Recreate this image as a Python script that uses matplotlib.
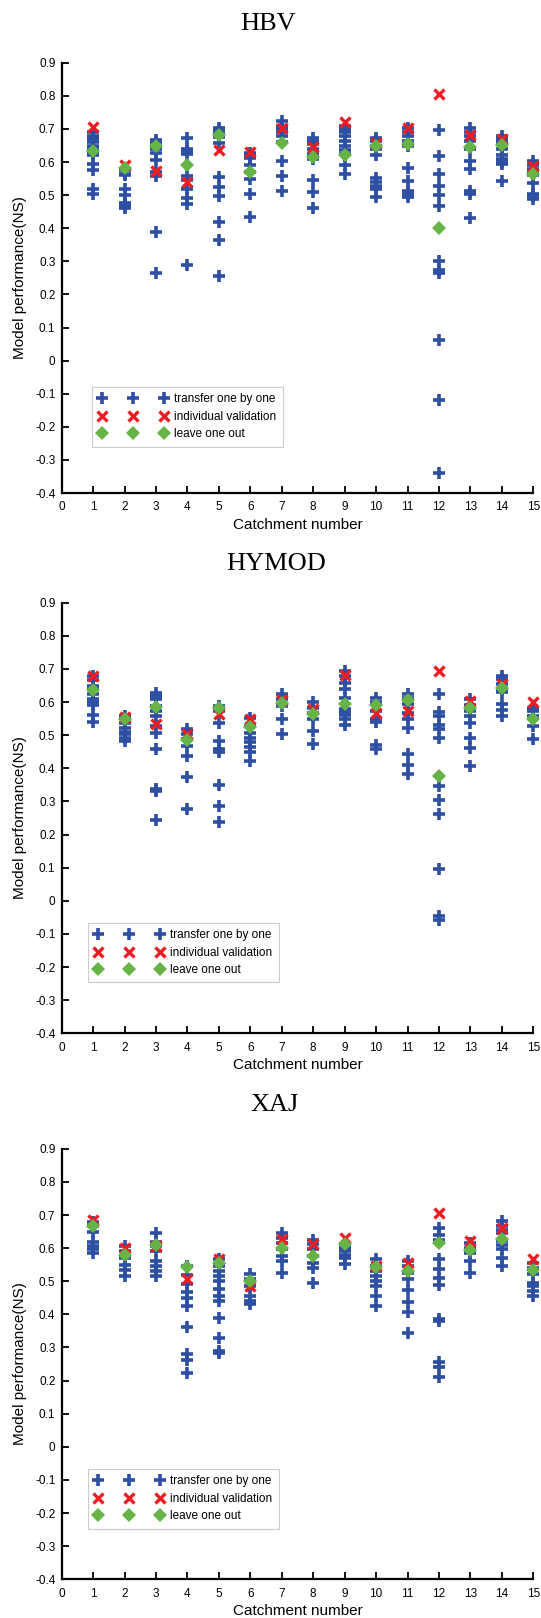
import numpy as np
import matplotlib
matplotlib.use("Agg")
import matplotlib.pyplot as plt

# DATA (NS values)
catchments = list(range(1, 16))
models = ["HBV", "HYMOD", "XAJ"]

# transfer one by one: parameters of the other catchments applied to each catchment
hbv_transfer = [
    [0.69, 0.68, 0.675, 0.67, 0.66, 0.65, 0.64, 0.63, 0.62, 0.595, 0.576, 0.518, 0.505],
    [0.58, 0.575, 0.565, 0.56, 0.518, 0.50, 0.476, 0.468, 0.462],
    [0.668, 0.66, 0.648, 0.64, 0.628, 0.605, 0.571, 0.558, 0.39, 0.266],
    [0.673, 0.64, 0.633, 0.625, 0.558, 0.545, 0.518, 0.491, 0.473, 0.288],
    [0.703, 0.695, 0.685, 0.675, 0.658, 0.555, 0.525, 0.498, 0.418, 0.363, 0.255],
    [0.628, 0.62, 0.613, 0.59, 0.57, 0.548, 0.503, 0.435],
    [0.723, 0.71, 0.70, 0.69, 0.68, 0.66, 0.603, 0.558, 0.513],
    [0.673, 0.665, 0.655, 0.638, 0.625, 0.608, 0.545, 0.51, 0.461],
    [0.71, 0.70, 0.69, 0.68, 0.665, 0.65, 0.635, 0.625, 0.59, 0.563],
    [0.673, 0.665, 0.65, 0.638, 0.62, 0.553, 0.54, 0.528, 0.518, 0.493],
    [0.703, 0.69, 0.68, 0.665, 0.648, 0.583, 0.543, 0.513, 0.503, 0.495],
    [0.698, 0.618, 0.563, 0.528, 0.50, 0.468, 0.301, 0.273, 0.266, 0.061, -0.118, -0.34],
    [0.703, 0.69, 0.68, 0.665, 0.638, 0.603, 0.578, 0.513, 0.505, 0.43],
    [0.68, 0.67, 0.66, 0.638, 0.62, 0.61, 0.60, 0.595, 0.543],
    [0.603, 0.59, 0.58, 0.57, 0.56, 0.538, 0.505, 0.498, 0.488],
]
hbv_indiv = [0.706, 0.59, 0.573, 0.541, 0.636, 0.63, 0.703, 0.645, 0.72, 0.658, 0.703, 0.805, 0.683, 0.67, 0.588]
hbv_loo = [0.633, 0.583, 0.648, 0.59, 0.683, 0.57, 0.658, 0.615, 0.62, 0.648, 0.656, 0.40, 0.646, 0.653, 0.563]

hymod_transfer = [
    [0.678, 0.668, 0.65, 0.64, 0.625, 0.61, 0.60, 0.59, 0.56, 0.54],
    [0.558, 0.538, 0.523, 0.51, 0.503, 0.493, 0.483],
    [0.628, 0.618, 0.608, 0.588, 0.573, 0.558, 0.528, 0.508, 0.458, 0.336, 0.33, 0.243],
    [0.518, 0.503, 0.488, 0.468, 0.438, 0.373, 0.278],
    [0.588, 0.573, 0.538, 0.483, 0.458, 0.448, 0.351, 0.285, 0.238],
    [0.553, 0.528, 0.508, 0.493, 0.478, 0.463, 0.448, 0.423],
    [0.623, 0.608, 0.588, 0.548, 0.505],
    [0.60, 0.583, 0.568, 0.548, 0.513, 0.473],
    [0.693, 0.678, 0.658, 0.64, 0.613, 0.58, 0.57, 0.56, 0.55, 0.531],
    [0.613, 0.60, 0.573, 0.548, 0.541, 0.471, 0.458],
    [0.625, 0.613, 0.593, 0.568, 0.548, 0.521, 0.443, 0.41, 0.383],
    [0.623, 0.57, 0.558, 0.53, 0.518, 0.493, 0.348, 0.303, 0.261, 0.097, -0.046, -0.058],
    [0.608, 0.59, 0.573, 0.558, 0.538, 0.493, 0.46, 0.406],
    [0.678, 0.67, 0.655, 0.64, 0.63, 0.593, 0.575, 0.558],
    [0.583, 0.573, 0.558, 0.528, 0.488],
]
hymod_indiv = [0.68, 0.555, 0.535, 0.503, 0.563, 0.548, 0.606, 0.578, 0.683, 0.566, 0.573, 0.693, 0.603, 0.656, 0.60]
hymod_loo = [0.635, 0.548, 0.585, 0.486, 0.583, 0.525, 0.598, 0.563, 0.595, 0.59, 0.606, 0.378, 0.583, 0.643, 0.55]

xaj_transfer = [
    [0.68, 0.666, 0.65, 0.62, 0.605, 0.598, 0.585],
    [0.605, 0.59, 0.57, 0.55, 0.535, 0.515],
    [0.645, 0.62, 0.605, 0.59, 0.56, 0.545, 0.53, 0.515],
    [0.545, 0.52, 0.491, 0.468, 0.448, 0.424, 0.361, 0.28, 0.262, 0.224],
    [0.566, 0.546, 0.53, 0.515, 0.50, 0.476, 0.456, 0.441, 0.389, 0.328, 0.29, 0.283],
    [0.521, 0.506, 0.486, 0.456, 0.44, 0.43],
    [0.646, 0.63, 0.615, 0.596, 0.576, 0.561, 0.524],
    [0.626, 0.611, 0.596, 0.576, 0.556, 0.541, 0.496],
    [0.611, 0.60, 0.59, 0.58, 0.571, 0.551],
    [0.566, 0.546, 0.53, 0.515, 0.50, 0.486, 0.456, 0.426],
    [0.561, 0.546, 0.526, 0.506, 0.474, 0.438, 0.408, 0.343],
    [0.661, 0.641, 0.626, 0.568, 0.538, 0.511, 0.489, 0.386, 0.381, 0.256, 0.24, 0.21],
    [0.616, 0.601, 0.586, 0.561, 0.524],
    [0.681, 0.666, 0.656, 0.646, 0.621, 0.608, 0.596, 0.571, 0.546],
    [0.556, 0.541, 0.521, 0.496, 0.486, 0.471, 0.456],
]
xaj_indiv = [0.686, 0.60, 0.606, 0.508, 0.566, 0.486, 0.628, 0.611, 0.631, 0.546, 0.554, 0.706, 0.621, 0.661, 0.568]
xaj_loo = [0.666, 0.58, 0.608, 0.544, 0.554, 0.501, 0.60, 0.576, 0.611, 0.543, 0.531, 0.616, 0.593, 0.629, 0.534]

transfer_all = [hbv_transfer, hymod_transfer, xaj_transfer]
indiv_all = [hbv_indiv, hymod_indiv, xaj_indiv]
loo_all = [hbv_loo, hymod_loo, xaj_loo]

yticks = np.round(np.arange(-0.4, 0.91, 0.1), 1)
ytick_labels = ["0" if v == 0 else f"{v:g}" for v in yticks]

# STYLE
blue = "#2C4FA3"
red = "#EE1D23"
green = "#66B346"
plt.rcParams["font.family"] = ["Liberation Sans", "DejaVu Sans"]

fig = plt.figure(figsize=(5.41, 16.18), dpi=100)

# axes boxes [left, bottom, width, height] and title positions
boxes = [[0.114, 0.6953, 0.8717, 0.2659],
         [0.114, 0.3614, 0.8717, 0.2661],
         [0.114, 0.0239, 0.8717, 0.2661]]
title_pos = [(0.495, 0.9815), (0.51, 0.6475), (0.508, 0.3135)]
legend_pos = [(0.065, 0.108), (0.056, 0.118), (0.056, 0.118)]

for k, name in enumerate(models):
    ax = fig.add_axes(boxes[k])

    xs = np.concatenate([[c] * len(v) for c, v in zip(catchments, transfer_all[k])])
    ys = np.concatenate(transfer_all[k])
    ax.plot(xs, ys, "+", color=blue, ms=8.5, mew=2.6, clip_on=False,
            label="transfer one by one")
    ax.plot(catchments, indiv_all[k], "x", color=red, ms=7.8, mew=2.4, clip_on=False,
            label="individual validation")
    ax.plot(catchments, loo_all[k], "D", color=green, ms=6.8, mew=0, clip_on=False,
            label="leave one out")

    ax.set_xlim(0, 15)
    ax.set_ylim(-0.4, 0.9)
    ax.set_xticks(range(0, 16))
    ax.set_yticks(yticks)
    ax.set_yticklabels(ytick_labels)
    ax.spines["top"].set_visible(False)
    ax.spines["right"].set_visible(False)
    ax.spines["left"].set_linewidth(1.6)
    ax.spines["bottom"].set_linewidth(1.6)
    ax.tick_params(direction="in", length=5, width=1.3, labelsize=8.5, colors="black")
    ax.tick_params(axis="x", pad=6)
    ax.tick_params(axis="y", pad=4.5)

    ax.set_xlabel("Catchment number", fontsize=11, labelpad=3)
    ax.set_ylabel("Model performance(NS)", fontsize=11, labelpad=6)

    leg = ax.legend(loc="lower left", bbox_to_anchor=legend_pos[k], borderaxespad=0,
                    numpoints=3, handlelength=5.85, handletextpad=0.55,
                    labelspacing=0.45, borderpad=0.55, fontsize=8.5,
                    fancybox=False, framealpha=1, edgecolor="#CCCCCC")
    leg.get_frame().set_linewidth(0.8)

    fig.text(title_pos[k][0], title_pos[k][1], name, ha="center", va="baseline",
             fontsize=19, family="Liberation Serif")

plt.savefig("out.png", dpi=100)
